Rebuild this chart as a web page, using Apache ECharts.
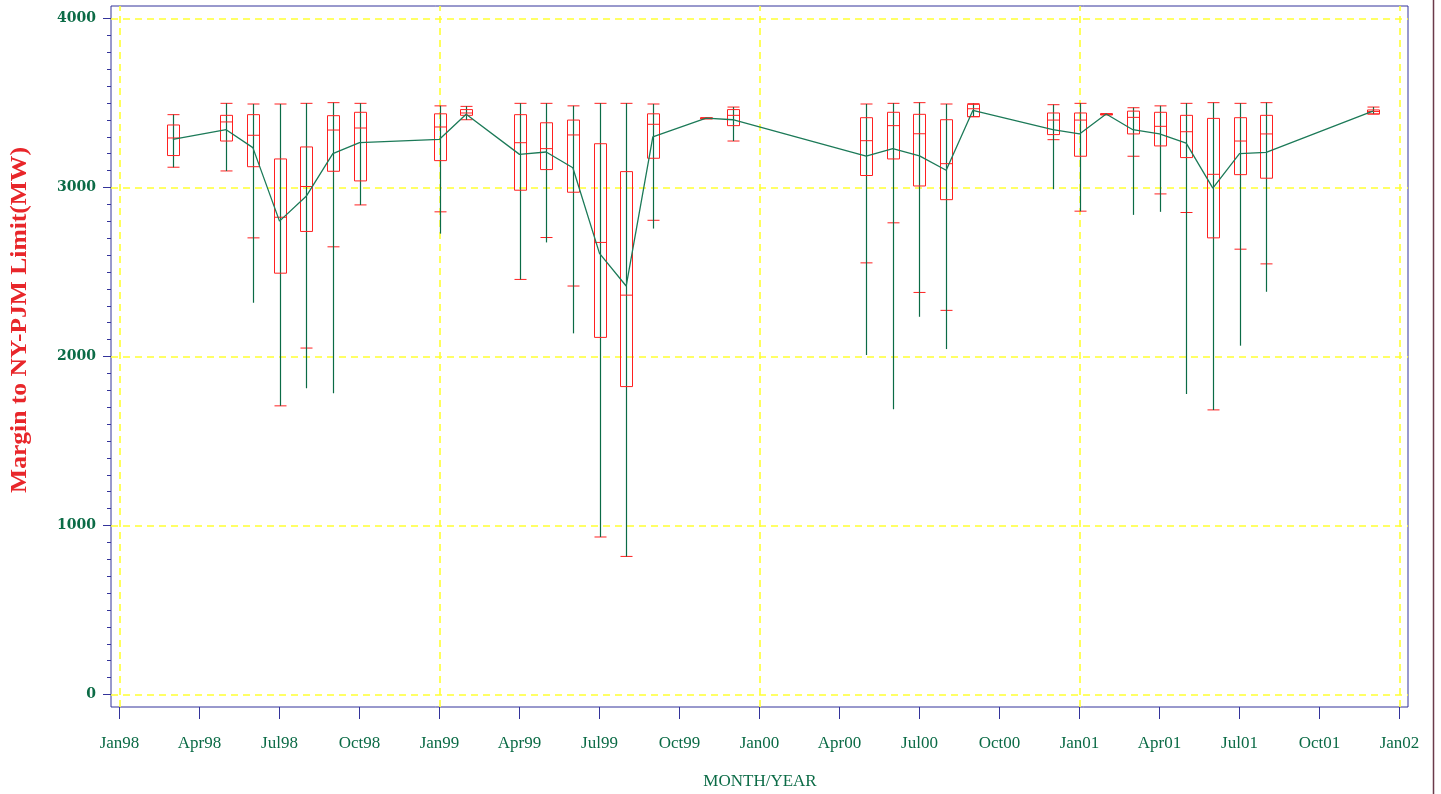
<!DOCTYPE html>
<html>
<head>
<meta charset="utf-8">
<script src="https://cdn.jsdelivr.net/npm/echarts@6/dist/echarts.min.js"></script>
<style>
html, body { margin: 0; padding: 0; background: #fff; }
#chart { width: 1441px; height: 794px; }
</style>
</head>
<body>
<div id="chart"></div>
<script>
// monthly distributions (MW)
const months = ['1998-03','1998-05','1998-06','1998-07','1998-08','1998-09','1998-10',
  '1999-01','1999-02','1999-04','1999-05','1999-06','1999-07','1999-08','1999-09','1999-11','1999-12',
  '2000-05','2000-06','2000-07','2000-08','2000-09','2000-12',
  '2001-01','2001-02','2001-03','2001-04','2001-05','2001-06','2001-07','2001-08','2001-12'];
const maxVals = [3431,3498,3494,3494,3498,3502,3498, 3483,3480,3498,3498,3483,3498,3498,3494,3411,3476,
  3494,3498,3502,3494,3496,3490, 3498,3435,3472,3483,3498,3502,3498,3502,3476];
const q3Vals = [3370,3427,3431,3169,3240,3425,3445, 3436,3461,3431,3383,3399,3259,3094,3436,3411,3461,
  3413,3445,3433,3401,3492,3441, 3441,3435,3452,3445,3427,3409,3413,3427,3459];
const medVals = [3293,3388,3309,2824,3006,3340,3352, 3358,3441,3265,3230,3311,2675,2363,3374,3411,3427,
  3277,3366,3318,3141,3466,3399, 3399,3435,3415,3362,3330,3078,3275,3317,3450];
const q1Vals = [3189,3275,3123,2493,2740,3096,3039, 3159,3427,2984,3106,2972,2113,1822,3173,3411,3366,
  3071,3169,3009,2928,3419,3313, 3185,3435,3317,3246,3177,2702,3076,3055,3435];
const whiskLoVals = [3120,3098,2702,1708,2050,2649,2897, 2856,3401,2456,2704,2417,932,817,2806,3411,3275,
  2554,2791,2379,2273,3419,3283, 2860,3435,3185,2962,2852,1684,2635,2548,3435];
const minVals = [3120,3098,2318,1708,1812,1783,2897, 2727,3401,2456,2675,2137,932,817,2757,3411,3275,
  2009,1688,2235,2044,3419,2990, 2860,3435,2838,2856,1778,1684,2064,2383,3435];
const meanVals = [3285,3342,3236,2801,2948,3200,3265, 3285,3433,3196,3210,3117,2610,2417,3299,3411,3401,
  3185,3230,3187,3102,3456,3342, 3317,3435,3342,3317,3263,2996,3200,3208,3452];

const xTickLabels = ['Jan98','Apr98','Jul98','Oct98','Jan99','Apr99','Jul99','Oct99','Jan00',
  'Apr00','Jul00','Oct00','Jan01','Apr01','Jul01','Oct01','Jan02'];
const yTickValues = [0, 1000, 2000, 3000, 4000];

const monthIndex = s => (Number(s.slice(0, 4)) - 1998) * 12 + Number(s.slice(5, 7)) - 1;
const xTicks = xTickLabels.map((_, i) => i * 3);
const yMinor = [];
for (let v = 100; v < 4000; v += 100) if (v % 1000) yMinor.push(v);

const boxData = months.map((m, i) => [monthIndex(m), maxVals[i], q3Vals[i], medVals[i], q1Vals[i], whiskLoVals[i], minVals[i]]);
const meanData = months.map((m, i) => [monthIndex(m), meanVals[i]]);

const RED = '#ff2020';
const GREEN = '#0b6b46';
const NAVY = '#33339a';
const LABEL = '#0b6b46';

function renderBox(params, api) {
  const x = api.value(0);
  const pHi = api.coord([x, api.value(1)]);
  const pQ3 = api.coord([x, api.value(2)]);
  const pMed = api.coord([x, api.value(3)]);
  const pQ1 = api.coord([x, api.value(4)]);
  const pLo = api.coord([x, api.value(5)]);
  const pMin = api.coord([x, api.value(6)]);
  const cx = Math.round(pHi[0]) + 0.5;
  const hw = 6;
  const red = { stroke: RED, lineWidth: 1, fill: null };
  const seg = (x1, y1, x2, y2, style) => ({ type: 'line', shape: { x1, y1, x2, y2 }, style });
  return {
    type: 'group',
    children: [
      seg(cx, pHi[1], cx, pQ3[1], red),
      seg(cx, pQ1[1], cx, pLo[1], red),
      seg(cx - hw, pHi[1], cx + hw, pHi[1], red),
      seg(cx - hw, pLo[1], cx + hw, pLo[1], red),
      seg(cx, pHi[1], cx, pMin[1], { stroke: GREEN, lineWidth: 1.2 }),
      { type: 'rect', shape: { x: cx - hw, y: pQ3[1], width: hw * 2, height: Math.max(pQ1[1] - pQ3[1], 1) }, style: red },
      seg(cx - hw, pMed[1], cx + hw, pMed[1], red)
    ]
  };
}

const chart = echarts.init(document.getElementById('chart'), null, { renderer: 'canvas' });
const yearLines = [0, 12, 24, 36, 48].map(v => ({ xAxis: v }));
const hLines = yTickValues.map(v => ({ yAxis: v }));

chart.setOption({
  animation: false,
  grid: { left: 111, right: 33, top: 6, bottom: 87, show: true, borderColor: NAVY, borderWidth: 1, backgroundColor: 'transparent' },
  xAxis: {
    type: 'value', min: -0.31875, max: 48.31875,
    axisLine: { show: false, onZero: false },
    axisTick: { show: true, inside: false, customValues: xTicks, length: 12, lineStyle: { color: NAVY } },
    axisLabel: {
      customValues: xTicks, margin: 28, color: LABEL, fontFamily: 'Liberation Serif', fontSize: 17,
      formatter: v => xTickLabels[Math.round(v / 3)]
    },
    splitLine: { show: false }
  },
  yAxis: [{
    type: 'value', min: -73.96, max: 4073.96,
    axisLine: { show: false, onZero: false },
    axisTick: { show: true, inside: false, customValues: yTickValues, length: 8, lineStyle: { color: NAVY } },
    axisLabel: {
      customValues: yTickValues, margin: 15, color: LABEL, fontFamily: 'DejaVu Serif', fontWeight: 'bold', fontSize: 14,
      formatter: v => String(v)
    },
    splitLine: { show: false }
  }, {
    type: 'value', min: -73.96, max: 4073.96, position: 'left',
    axisLine: { show: false, onZero: false },
    axisTick: { show: true, inside: false, customValues: yMinor, length: 4, lineStyle: { color: NAVY } },
    axisLabel: { show: false },
    splitLine: { show: false }
  }],
  graphic: [
    {
      type: 'text', x: 20, y: 320, rotation: Math.PI / 2, scaleX: 1.11,
      style: { text: 'Margin to NY-PJM Limit(MW)', fill: '#e8262a', font: 'bold 23px "Liberation Serif"', align: 'center', verticalAlign: 'middle' }
    },
    {
      type: 'text', x: 760, y: 782,
      style: { text: 'MONTH/YEAR', fill: LABEL, font: '17px "Liberation Serif"', align: 'center', verticalAlign: 'middle' }
    },
    { type: 'line', shape: { x1: 1433.5, y1: 0, x2: 1433.5, y2: 794 }, style: { stroke: '#6b3a4a', lineWidth: 1.5 } }
  ],
  series: [
    {
      type: 'line', name: 'grid', data: [], z: 1, silent: true,
      markLine: {
        z: 1, silent: true, symbol: 'none', label: { show: false },
        lineStyle: { color: '#ffff33', type: [7, 5], width: 1.6 },
        data: yearLines.concat(hLines)
      }
    },
    {
      type: 'custom', name: 'box', renderItem: renderBox, data: boxData,
      encode: { x: 0, y: [1, 2, 3, 4, 5, 6] }, z: 3
    },
    {
      type: 'line', name: 'mean', data: meanData, symbol: 'none', z: 4,
      lineStyle: { color: '#1c7a58', width: 1.3 }
    }
  ]
});
</script>
</body>
</html>
